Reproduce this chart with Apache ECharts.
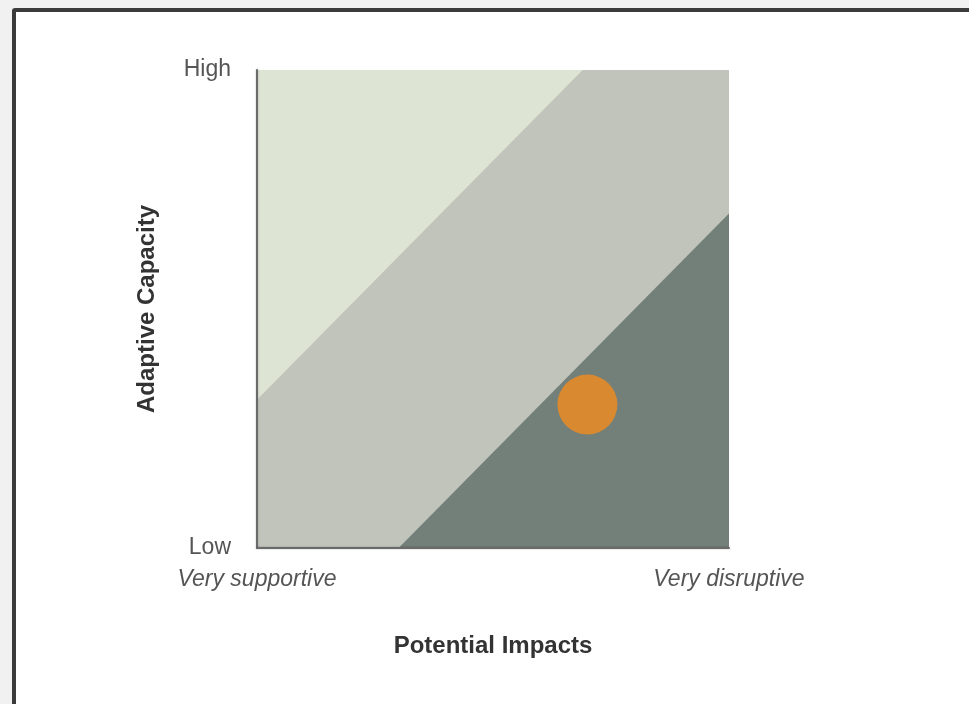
<!DOCTYPE html>
<html>
<head>
<meta charset="utf-8">
<script src="https://cdn.jsdelivr.net/npm/echarts@6/dist/echarts.min.js"></script>
<style>
  html, body { margin: 0; padding: 0; background: #f1f1f1; width: 969px; height: 704px; overflow: hidden; }
  #frame { position: absolute; left: 12px; top: 8px; width: 1000px; height: 760px; border: 4px solid #3b3b3b; border-radius: 3px; background: #ffffff; box-sizing: border-box; }
  #chart { position: absolute; left: 0; top: 0; width: 969px; height: 704px; }
</style>
</head>
<body>
<div id="frame"></div>
<div id="chart"></div>
<script>
// Tick labels
var xTickLabels = ['Very supportive', 'Very disruptive'];
var yTickLabels = ['Low', 'High'];
var xAxisName = 'Potential Impacts';
var yAxisName = 'Adaptive Capacity';

// Zone polygons (data coordinates 0..100)
var fullZone = [[0, 0], [100, 0], [100, 100], [0, 100]];
var lightZone = [[0, 31], [69, 100], [0, 100]];
var darkZone = [[30, 0], [100, 0], [100, 70]];

// The plotted point
var pointData = [[70, 30]];

var chart = echarts.init(document.getElementById('chart'), null, { renderer: 'canvas' });

function polygonSeries(name, verts, color) {
  return {
    name: name,
    type: 'custom',
    silent: true,
    data: [0],
    clip: true,
    z: 1,
    renderItem: function (params, api) {
      var pts = verts.map(function (v) { return api.coord(v); });
      return {
        type: 'polygon',
        shape: { points: pts },
        style: { fill: color, stroke: null }
      };
    }
  };
}

var labelFont = 'Liberation Sans, Arial, sans-serif';
var axisLineStyle = { color: '#6a6a6a', width: 2, shadowColor: 'rgba(0,0,0,0.25)', shadowBlur: 2 };

chart.setOption({
  animation: false,
  grid: { left: 257, top: 70, width: 472, height: 478 },
  xAxis: {
    type: 'value', min: 0, max: 100, interval: 100, z: 10,
    axisLine: { show: true, onZero: false, lineStyle: axisLineStyle },
    axisTick: { show: false },
    splitLine: { show: false },
    axisLabel: {
      margin: 20, fontSize: 23, fontStyle: 'italic', color: '#555555', fontFamily: labelFont,
      formatter: function (v) { return v === 0 ? xTickLabels[0] : xTickLabels[1]; }
    },
    name: xAxisName, nameLocation: 'middle', nameGap: 86,
    nameTextStyle: { fontSize: 24, fontWeight: 'bold', color: '#333333', fontFamily: labelFont }
  },
  yAxis: {
    type: 'value', min: 0, max: 100, interval: 100, z: 10,
    axisLine: { show: true, onZero: false, lineStyle: axisLineStyle },
    axisTick: { show: false },
    splitLine: { show: false },
    axisLabel: {
      margin: 26, fontSize: 23, color: '#555555', fontFamily: labelFont,
      formatter: function (v) { return v === 0 ? yTickLabels[0] : yTickLabels[1]; }
    },
    name: yAxisName, nameLocation: 'middle', nameGap: 98, nameRotate: 90,
    nameTextStyle: { fontSize: 24, fontWeight: 'bold', color: '#333333', fontFamily: labelFont }
  },
  series: [
    polygonSeries('mid', fullZone, '#c0c4ba'),
    polygonSeries('light', lightZone, '#dde4d4'),
    polygonSeries('dark', darkZone, '#737f79'),
    {
      name: 'point', type: 'scatter', data: pointData, symbolSize: 60,
      itemStyle: { color: '#d98a31', opacity: 1 }, z: 5
    }
  ]
});
</script>
</body>
</html>
